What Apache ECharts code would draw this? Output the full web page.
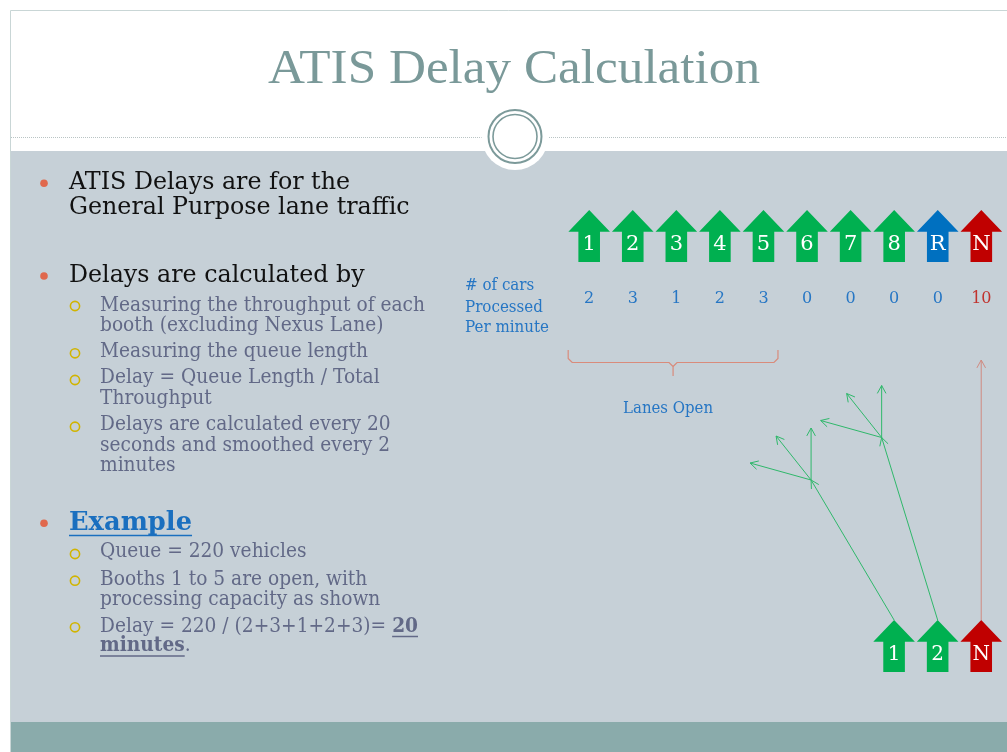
<!DOCTYPE html>
<html>
<head>
<meta charset="utf-8">
<title>ATIS Delay Calculation</title>
<script src="https://cdn.jsdelivr.net/npm/echarts@6/dist/echarts.min.js"></script>
<style>
  html, body { margin: 0; padding: 0; background: #fff; }
  #main { width: 1007px; height: 752px; }
</style>
</head>
<body>
<div id="main"></div>
<script>
// booths at the plaza, left to right
const lanes = ['1', '2', '3', '4', '5', '6', '7', '8', 'R', 'N'];
const laneTypes = ['gp', 'gp', 'gp', 'gp', 'gp', 'gp', 'gp', 'gp', 'reversible', 'nexus'];
// # of cars processed per minute
const carsPerMinute = [2, 3, 1, 2, 3, 0, 0, 0, 0, 10];
const openLanes = ['1', '2', '3', '4', '5'];
// lanes after the plaza
const mergeLanes = ['1', '2', 'N'];
const queueVehicles = 220;

const laneColors = { gp: '#00b050', reversible: '#0070c0', nexus: '#c00000' };
const SERIF = '"DejaVu Serif", Georgia, serif';
const TITLE_FONT = '"Liberation Serif", "Times New Roman", serif';

// measure text so it can be squeezed to the slide's widths
const ctx = document.createElement('canvas').getContext('2d');
function measure(str, font) { ctx.font = font; return ctx.measureText(str).width; }

const sx1 = 281 / measure('ATIS Delays are for the', '24px ' + SERIF);
const sx2 = 325 / measure('Measuring the throughput of each', '21px ' + SERIF);
const sxTitle = 492 / measure('ATIS Delay Calculation', '48px ' + TITLE_FONT);
const sxSide = 84 / measure('Per minute', '16px ' + SERIF);
const sxOpen = 90 / measure('Lanes Open', '17px ' + SERIF);

function txt(str, x, baseline, size, color, extra) {
  return Object.assign({
    type: 'text', x: x, y: baseline - size * 0.36, scaleX: 1, originX: 0,
    style: { text: str, font: size + 'px ' + SERIF, fill: color, align: 'left', verticalAlign: 'middle' }
  }, extra || {});
}

const L1 = '#111111', L2 = '#626987', BLUE = '#2676c4';

function dot(y) { return { type: 'circle', shape: { cx: 44, cy: y, r: 3.8 }, style: { fill: '#e0684d' } }; }
function ring(y) { return { type: 'circle', shape: { cx: 75, cy: y, r: 4.6 }, style: { fill: 'none', stroke: '#d1b400', lineWidth: 1.6 } }; }
function l1(str, b) { return txt(str, 69, b, 24, L1, { scaleX: sx1 }); }
function l2(str, b) { return txt(str, 100, b, 21, L2, { scaleX: sx2 }); }

// example line built from the data
const openIdx = openLanes.map(l => lanes.indexOf(l));
const openSum = openIdx.reduce((s, i) => s + carsPerMinute[i], 0);
const delay = Math.round(queueVehicles / openSum);
const delayHead = 'Delay = ' + queueVehicles + ' / (' + openIdx.map(i => carsPerMinute[i]).join('+') + ')= ';
const headW = measure(delayHead, '21px ' + SERIF) * sx2;
const boldW = measure(String(delay), 'bold 21px ' + SERIF) * sx2;
const minW = measure('minutes', 'bold 21px ' + SERIF) * sx2;
const exW = measure('Example', 'bold 26px ' + SERIF) * sx1;

const background = [
  { type: 'rect', shape: { x: 0, y: 0, width: 1007, height: 752 }, style: { fill: '#ffffff' } },
  { type: 'rect', shape: { x: 10.5, y: 151, width: 1000, height: 572 }, style: { fill: '#c6d0d7' } },
  { type: 'rect', shape: { x: 10.5, y: 722, width: 1000, height: 40 }, style: { fill: '#8aabab' } },
  { type: 'line', shape: { x1: 10.5, y1: 10.5, x2: 1007, y2: 10.5 }, style: { stroke: '#c9d6d6', lineWidth: 1 } },
  { type: 'line', shape: { x1: 10.5, y1: 10.5, x2: 10.5, y2: 752 }, style: { stroke: '#c9d6d6', lineWidth: 1 } },
  { type: 'line', shape: { x1: 11, y1: 137.5, x2: 1007, y2: 137.5 }, style: { stroke: '#b9c4c4', lineWidth: 1, lineDash: [1, 1] } },
  { type: 'circle', shape: { cx: 515, cy: 136.5, r: 33.5 }, style: { fill: '#ffffff' } },
  { type: 'circle', shape: { cx: 515, cy: 136.5, r: 26.5 }, style: { fill: 'none', stroke: '#7c9a9a', lineWidth: 2 } },
  { type: 'circle', shape: { cx: 515, cy: 136.5, r: 22 }, style: { fill: 'none', stroke: '#7c9a9a', lineWidth: 1.6 } },
  {
    type: 'text', x: 514, y: 87.5 - 48 * 0.36, scaleX: sxTitle,
    style: { text: 'ATIS Delay Calculation', font: '48px ' + TITLE_FONT, fill: '#7a9999', align: 'center', verticalAlign: 'middle' }
  }
];

const bullets = [
  dot(183.3), l1('ATIS Delays are for the', 191.7), l1('General Purpose lane traffic', 216.7),
  dot(276), l1('Delays are calculated by', 284),
  ring(306), l2('Measuring the throughput of each', 312.7), l2('booth (excluding Nexus Lane)', 333.3),
  ring(353.3), l2('Measuring the queue length', 359),
  ring(380), l2('Delay = Queue Length / Total', 385), l2('Throughput', 405.7),
  ring(426.7), l2('Delays are calculated every 20', 431.7), l2('seconds and smoothed every 2', 453.3), l2('minutes', 473.3),
  dot(523.3),
  txt('Example', 69, 532.7, 26, '#1a6fbf', { scaleX: sx1, style: { text: 'Example', font: 'bold 26px ' + SERIF, fill: '#1a6fbf', align: 'left', verticalAlign: 'middle' } }),
  { type: 'line', shape: { x1: 69, y1: 535.5, x2: 69 + exW, y2: 535.5 }, style: { stroke: '#1a6fbf', lineWidth: 1.5 } },
  ring(554), l2('Queue = ' + queueVehicles + ' vehicles', 559.3),
  ring(580.7), l2('Booths ' + openLanes[0] + ' to ' + openLanes[openLanes.length - 1] + ' are open, with', 586.7), l2('processing capacity as shown', 606.7),
  ring(627.3),
  txt('', 100, 634, 21, L2, {
    scaleX: sx2,
    style: {
      text: '{n|' + delayHead + '}{b|' + delay + '}', align: 'left', verticalAlign: 'middle',
      rich: { n: { font: '21px ' + SERIF, fill: L2 }, b: { font: 'bold 21px ' + SERIF, fill: L2 } }
    }
  }),
  { type: 'line', shape: { x1: 100 + headW, y1: 636.5, x2: 100 + headW + boldW, y2: 636.5 }, style: { stroke: L2, lineWidth: 1.5 } },
  txt('', 100, 653.3, 21, L2, {
    scaleX: sx2,
    style: {
      text: '{b|minutes}{n|.}', align: 'left', verticalAlign: 'middle',
      rich: { n: { font: '21px ' + SERIF, fill: L2 }, b: { font: 'bold 21px ' + SERIF, fill: L2 } }
    }
  }),
  { type: 'line', shape: { x1: 100, y1: 656, x2: 100 + minW, y2: 656 }, style: { stroke: L2, lineWidth: 1.5 } },
  txt('# of cars', 465, 291.7, 16, BLUE, { scaleX: sxSide }),
  txt('Processed', 465, 313.3, 16, BLUE, { scaleX: sxSide }),
  txt('Per minute', 465, 333.3, 16, BLUE, { scaleX: sxSide })
];

function arrowPoints(cx, y0, h) {
  const hw = 20.8, sw = 10.8, hh = h * 0.42;
  return [[cx, y0], [cx + hw, y0 + hh], [cx + sw, y0 + hh], [cx + sw, y0 + h],
          [cx - sw, y0 + h], [cx - sw, y0 + hh], [cx - hw, y0 + hh]];
}

// open "V" arrow head at (x2,y2) pointing away from (x1,y1)
function head(x1, y1, x2, y2, len) {
  const a = Math.atan2(y2 - y1, x2 - x1), s = 0.5;
  return [[x2 - len * Math.cos(a - s), y2 - len * Math.sin(a - s)], [x2, y2],
          [x2 - len * Math.cos(a + s), y2 - len * Math.sin(a + s)]];
}
function arrowLine(x1, y1, x2, y2, color) {
  return [
    { type: 'line', shape: { x1: x1, y1: y1, x2: x2, y2: y2 }, style: { stroke: color, lineWidth: 1 } },
    { type: 'polyline', shape: { points: head(x1, y1, x2, y2, 9) }, style: { stroke: color, lineWidth: 1, fill: null } }
  ];
}

function renderLane(params, api) {
  const i = api.value(0);
  const cx = api.coord([i, 0])[0];
  const y0 = params.coordSys.y, h = params.coordSys.height;
  const v = api.value(1);
  return {
    type: 'group',
    children: [
      { type: 'polygon', shape: { points: arrowPoints(cx, y0, h) }, style: { fill: laneColors[laneTypes[i]] } },
      { type: 'text', style: { text: lanes[i], x: cx, y: y0 + 35, align: 'center', verticalAlign: 'middle', fill: '#ffffff', font: '21px ' + SERIF } },
      { type: 'text', style: { text: String(v), x: cx, y: y0 + 88.5, align: 'center', verticalAlign: 'middle', fill: laneTypes[i] === 'nexus' ? '#c0322d' : BLUE, font: '16px ' + SERIF } }
    ]
  };
}

function renderBracket(params, api) {
  const xa = api.coord([api.value(0), 0])[0] - 21, xb = api.coord([api.value(1), 0])[0] + 14.5;
  const yt = 350, ym = 362.5, yb = 376, xm = (xa + xb) / 2, r = 4;
  const c = '#d98b7b';
  return {
    type: 'group',
    children: [
      { type: 'polyline', shape: { points: [[xa, yt], [xa, ym - r], [xa + r, ym], [xm - r, ym], [xm, ym + r], [xm, yb]] }, style: { stroke: c, lineWidth: 1.2, fill: null } },
      { type: 'polyline', shape: { points: [[xb, yt], [xb, ym - r], [xb - r, ym], [xm + r, ym], [xm, ym + r]] }, style: { stroke: c, lineWidth: 1.2, fill: null } },
      { type: 'text', x: xm - 5, y: 409, scaleX: sxOpen, style: { text: 'Lanes Open', x: 0, y: 0, align: 'center', verticalAlign: 'middle', fill: BLUE, font: '17px ' + SERIF } }
    ]
  };
}

// merge paths drawn relative to each downstream arrow tip
const fan = [[-61, -17], [-35, -44], [0, -52]];
const mergeJunction = { '1': [-83, -140], '2': [-56, -182.5] };

function renderMerge(params, api) {
  const i = api.value(0);
  const cx = api.coord([i, 0])[0];
  const y0 = params.coordSys.y, h = params.coordSys.height;
  const name = mergeLanes[i];
  const color = name === 'N' ? laneColors.nexus : laneColors.gp;
  let children = [
    { type: 'polygon', shape: { points: arrowPoints(cx, y0, h) }, style: { fill: color } },
    { type: 'text', style: { text: name, x: cx, y: y0 + 35, align: 'center', verticalAlign: 'middle', fill: '#ffffff', font: '20px ' + SERIF } }
  ];
  if (name === 'N') {
    children = children.concat(arrowLine(cx, y0, cx, y0 - 260, '#d08a80'));
  } else {
    const j = mergeJunction[name];
    const jx = cx + j[0], jy = y0 + j[1];
    children = children.concat(arrowLine(cx, y0, jx, jy, '#2fb86b'));
    fan.forEach(f => { children = children.concat(arrowLine(jx, jy, jx + f[0], jy + f[1], '#2fb86b')); });
  }
  return { type: 'group', children: children };
}

const chart = echarts.init(document.getElementById('main'), null, { renderer: 'canvas' });
chart.setOption({
  animation: false,
  backgroundColor: '#ffffff',
  graphic: [{ type: 'group', silent: true, children: background.concat(bullets) }],
  grid: [
    { left: 567.4, width: 435.7, top: 210, height: 52 },
    { left: 872.3, width: 130.7, top: 620, height: 52 }
  ],
  xAxis: [
    { gridIndex: 0, type: 'category', data: lanes, show: false },
    { gridIndex: 1, type: 'category', data: mergeLanes, show: false }
  ],
  yAxis: [
    { gridIndex: 0, type: 'value', min: 0, max: 1, show: false },
    { gridIndex: 1, type: 'value', min: 0, max: 1, show: false }
  ],
  series: [
    {
      type: 'custom', xAxisIndex: 0, yAxisIndex: 0, renderItem: renderLane,
      data: lanes.map((l, i) => [i, carsPerMinute[i]])
    },
    {
      type: 'custom', xAxisIndex: 0, yAxisIndex: 0, renderItem: renderBracket,
      data: [[lanes.indexOf(openLanes[0]), lanes.indexOf(openLanes[openLanes.length - 1])]]
    },
    {
      type: 'custom', xAxisIndex: 1, yAxisIndex: 1, renderItem: renderMerge,
      data: mergeLanes.map((l, i) => [i, 0])
    }
  ]
});
</script>
</body>
</html>
